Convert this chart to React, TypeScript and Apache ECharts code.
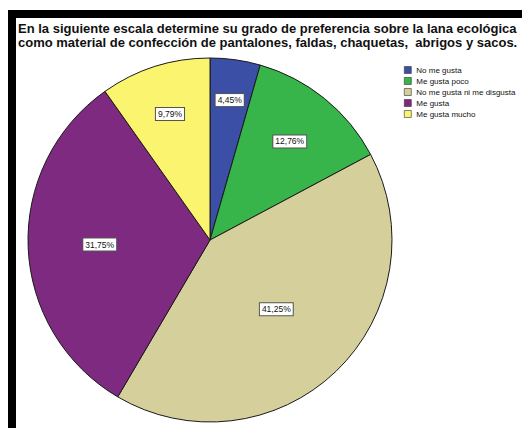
import React, { useEffect, useRef } from "react";
import * as echarts from "echarts";

const titleLines = [
  "En la siguiente escala determine su grado de preferencia sobre la lana ecológica",
  "como material de confección de pantalones, faldas, chaquetas,  abrigos y sacos.",
];
const categories = [
  "No me gusta",
  "Me gusta poco",
  "No me gusta ni me disgusta",
  "Me gusta",
  "Me gusta mucho",
];
const percentages = [4.45, 12.76, 41.25, 31.75, 9.79];
const colors = ["#3b4fa6", "#38b54a", "#d4cf9b", "#7d2a80", "#fbf46f"];

// styling: radial placement of each label as a fraction of the radius
const labelRadiusFraction = [0.76, 0.68, 0.51, 0.59, 0.71];
const PIE_RADIUS = 182;

export default function App() {
  const ref = useRef<HTMLDivElement>(null);
  useEffect(() => {
    if (!ref.current) return;
    const chart = echarts.init(ref.current, null, { renderer: "svg" });
    const total = percentages.reduce((a, b) => a + b, 0);
    const cum: number[] = [];
    let acc = 0;
    percentages.forEach((v) => {
      cum.push(acc + v / 2);
      acc += v;
    });
    chart.setOption({
      animation: false,
      backgroundColor: "#ffffff",
      graphic: [
        { type: "rect", shape: { x: 8, y: 10, width: 514, height: 8 }, style: { fill: "#000" } },
        { type: "rect", shape: { x: 8, y: 10, width: 8, height: 418 }, style: { fill: "#000" } },
        {
          type: "text",
          left: 18,
          top: 21,
          style: {
            text: titleLines.join("\n"),
            font: "bold 13px 'Liberation Sans', Arial, sans-serif",
            lineHeight: 14,
            fill: "#111",
          },
        },
      ],
      legend: {
        orient: "vertical",
        left: 399,
        top: 61,
        itemWidth: 7,
        itemHeight: 7,
        itemGap: 3,
        icon: "rect",
        data: categories,
        itemStyle: { borderColor: "#333", borderWidth: 0.6 },
        textStyle: {
          fontFamily: "'Liberation Sans', Arial, sans-serif",
          fontSize: 8,
          lineHeight: 8,
          color: "#111",
        },
      },
      series: [
        {
          type: "pie",
          center: [210, 240],
          radius: PIE_RADIUS,
          startAngle: 90,
          clockwise: true,
          color: colors,
          itemStyle: { borderColor: "#1a1a1a", borderWidth: 1 },
          emphasis: { disabled: true },
          label: {
            show: true,
            position: "inside",
            formatter: (p: any) => p.value.toFixed(2).replace(".", ",") + "%",
            fontFamily: "'Liberation Sans', Arial, sans-serif",
            fontSize: 8.5,
            color: "#111",
            backgroundColor: "#ffffff",
            borderColor: "#555",
            borderWidth: 1,
            padding: [2, 2, 1, 2],
          },
          labelLayout: (params: any) => {
            const i = params.dataIndex;
            const theta = (cum[i] / total) * Math.PI * 2;
            const extra = (labelRadiusFraction[i] - 0.5) * PIE_RADIUS;
            return { dx: extra * Math.sin(theta), dy: -extra * Math.cos(theta) };
          },
          data: categories.map((c, i) => ({ name: c, value: percentages[i] })),
        },
      ],
    });
    return () => chart.dispose();
  }, []);
  return (
    <div
      ref={ref}
      style={{ position: "absolute", left: 0, top: 0, width: 522, height: 428 }}
    />
  );
}
